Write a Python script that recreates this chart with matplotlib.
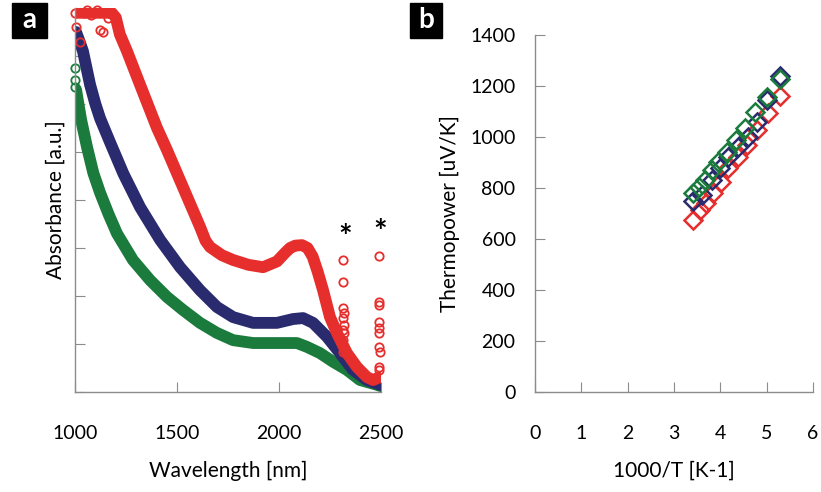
import matplotlib
matplotlib.use("Agg")
import matplotlib.pyplot as plt

plt.rcParams['font.family'] = ['Lato', 'DejaVu Sans']

# ---- panel a: absorbance spectra ----
wl_green = [1005, 1030, 1059, 1090, 1123, 1165, 1206, 1284, 1368, 1451, 1529,
            1613, 1696, 1775, 1873, 1990, 2088, 2137, 2201, 2265, 2333, 2397,
            2480, 2500]
abs_green = [6.3, 5.67, 5.1, 4.56, 4.15, 3.7, 3.3, 2.75, 2.33, 1.98, 1.71,
             1.44, 1.23, 1.08, 1.02, 1.02, 1.02, 0.94, 0.81, 0.63, 0.46, 0.25,
             0.15, 0.12]

wl_blue = [1005, 1020, 1039, 1074, 1100, 1123, 1172, 1237, 1319, 1417, 1515,
           1613, 1696, 1775, 1873, 1990, 2069, 2118, 2167, 2235, 2299, 2363,
           2431, 2495]
abs_blue = [7.5, 7.33, 7.1, 6.4, 6.0, 5.7, 5.2, 4.55, 3.85, 3.17, 2.6,
            2.12, 1.77, 1.56, 1.44, 1.44, 1.52, 1.54, 1.44, 1.15, 0.81, 0.46,
            0.25, 0.15]

wl_red = [1000, 1060, 1120, 1180, 1200, 1220, 1255, 1319, 1402, 1451, 1529,
          1613, 1640, 1662, 1720, 1775, 1850, 1922, 1990, 2030, 2054, 2080,
          2113, 2140, 2165, 2190, 2216, 2250, 2284, 2333, 2382, 2431, 2461,
          2495]
abs_red = [7.9, 7.9, 7.9, 7.9, 7.8, 7.45, 7.1, 6.4, 5.5, 5.04, 4.27,
           3.44, 3.15, 3.02, 2.85, 2.75, 2.65, 2.6, 2.72, 2.9, 3.0, 3.05,
           3.06, 3.0, 2.82, 2.5, 2.12, 1.56, 1.23, 0.81, 0.52, 0.31, 0.25,
           0.31]

# scattered single points (noisy detector edges)
wl_green_pts = [1000, 1000, 1000]
abs_green_pts = [6.75, 6.5, 6.35]
wl_red_pts = [1000, 1004, 1025, 1045, 1059, 1080, 1108, 1123, 1137, 1160, 1180,
              2314, 2314, 2314, 2318, 2312, 2320, 2316, 2318, 2314, 2320, 2316,
              2490, 2492, 2488, 2490, 2488, 2492, 2490, 2494, 2490, 2488]
abs_red_pts = [7.9, 7.6, 7.3, 7.9, 7.95, 7.85, 7.95, 7.55, 7.5, 7.8, 7.9,
               2.75, 2.29, 1.75, 1.65, 1.54, 1.4, 1.29, 1.23, 1.08, 0.94, 0.83,
               2.83, 1.88, 1.81, 1.46, 1.33, 1.23, 0.94, 0.83, 0.52, 0.46]
star_wl = [2324, 2495]
star_abs = [3.2, 3.3]

# ---- panel b: thermopower vs 1000/T ----
invT_red = [3.42, 3.56, 3.69, 3.85, 4.01, 4.17, 4.38, 4.57, 4.79, 5.02, 5.29]
S_red = [676, 713, 742, 781, 824, 877, 922, 968, 1027, 1093, 1161]
invT_blue = [3.42, 3.60, 3.81, 3.99, 4.17, 4.39, 4.59, 4.79, 5.0, 5.28]
S_blue = [748, 772, 831, 877, 922, 962, 1001, 1060, 1145, 1239]
invT_green = [3.40, 3.53, 3.67, 3.81, 3.96, 4.14, 4.34, 4.54, 4.74, 5.0, 5.28]
S_green = [781, 805, 831, 870, 903, 942, 988, 1034, 1099, 1158, 1227]

RED = '#e62e2d'
BLUE = '#2a2a6e'
GREEN = '#1a7b3c'
AXC = '#8c8c8c'
W, H = 821, 492

fig = plt.figure(figsize=(W / 100, H / 100), dpi=100)


def frac(x0, y0, x1, y1):
    return [x0 / W, 1 - y1 / H, (x1 - x0) / W, (y1 - y0) / H]


def style(ax):
    for s in ['top', 'right']:
        ax.spines[s].set_visible(False)
    for s in ['left', 'bottom']:
        ax.spines[s].set_color(AXC)
        ax.spines[s].set_linewidth(1.0)
    ax.tick_params(direction='in', length=7, color=AXC, labelsize=14)


# panel a
ax1 = fig.add_axes(frac(75, 8, 381, 392))
for wl, a, c in [(wl_green, abs_green, GREEN), (wl_blue, abs_blue, BLUE),
                 (wl_red, abs_red, RED)]:
    ax1.plot(wl, a, color=c, lw=8.5, solid_capstyle='round', solid_joinstyle='round')
ax1.plot(wl_green_pts, abs_green_pts, 'o', mfc='none', mec=GREEN, ms=6, mew=1.3, clip_on=False)
ax1.plot(wl_red_pts, abs_red_pts, 'o', mfc='none', mec=RED, ms=6, mew=1.3, clip_on=False)
for x, y in zip(star_wl, star_abs):
    ax1.text(x, y, '*', fontsize=23, ha='center', va='center', fontweight='bold')
ax1.set_xlim(1000, 2500)
ax1.set_ylim(0, 8)
ax1.set_xticks([1000, 1500, 2000, 2500])
ax1.set_yticks(range(0, 9))
ax1.set_yticklabels([])
style(ax1)
ax1.tick_params(axis='x', pad=24)
ax1.set_xlabel('Wavelength [nm]', fontsize=15, labelpad=13)
ax1.set_ylabel('Absorbance [a.u.]', fontsize=15, labelpad=3)

# panel b
ax2 = fig.add_axes(frac(535, 35, 813, 392))
for x, y, c in [(invT_red, S_red, RED), (invT_blue, S_blue, BLUE),
                (invT_green, S_green, GREEN)]:
    ax2.plot(x, y, 'D', mfc='none', mec=c, ms=9.5, mew=1.8)
ax2.set_xlim(0, 6)
ax2.set_ylim(0, 1400)
ax2.set_xticks(range(0, 7))
ax2.set_yticks(range(0, 1401, 200))
style(ax2)
ax2.tick_params(axis='x', pad=24)
ax2.tick_params(axis='y', pad=14)
ax2.set_xlabel('1000/T [K-1]', fontsize=15, labelpad=13)
ax2.set_ylabel('Thermopower [uV/K]', fontsize=15, labelpad=7)

# panel letters
for x0, x1, letter in [(12, 47, 'a'), (410, 442, 'b')]:
    fig.patches.append(plt.Rectangle((x0 / W, 1 - 38 / H), (x1 - x0) / W, 35 / H,
                                     transform=fig.transFigure, color='black'))
    fig.text((x0 + x1) / 2 / W, 1 - 20 / H, letter, color='white', fontsize=20,
             fontweight='bold', ha='center', va='center')

fig.savefig('out.png', dpi=100)
